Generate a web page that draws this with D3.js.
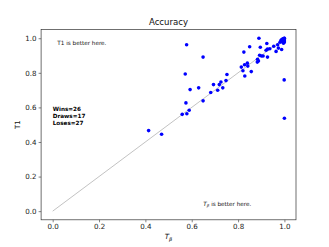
<!DOCTYPE html>
<html>
<head>
<meta charset="utf-8">
<script src="https://cdn.jsdelivr.net/npm/d3@7"></script>
<style>
  body { margin: 0; background: #fff; }
  text { font-family: "DejaVu Sans", sans-serif; }
</style>
</head>
<body>
<svg id="chart"></svg>
<script>
// T_beta accuracy (x) vs T1 accuracy (y)
const tBeta = [0.578, 0.649, 0.572, 0.593, 0.630, 0.575, 0.649, 0.589, 0.579, 0.559,
  0.682, 0.694, 0.712, 0.719, 0.726, 0.734, 0.748, 0.752, 0.814, 0.821,
  0.828, 0.840, 0.842, 0.829, 0.857, 0.825, 0.850, 0.890, 0.896, 0.884,
  0.883, 0.888, 0.893, 0.901, 0.908, 0.924, 0.927, 0.921, 0.927, 0.937,
  0.954, 0.964, 0.971, 0.974, 0.988, 0.981, 0.987, 0.993, 0.999, 0.990,
  0.996, 1.000, 0.999, 1.000, 0.414, 0.470, 1.000, 1.000, 0.985, 0.995];
const t1 = [0.962, 0.891, 0.793, 0.703, 0.713, 0.626, 0.638, 0.584, 0.563, 0.560,
  0.686, 0.732, 0.699, 0.732, 0.747, 0.713, 0.755, 0.790, 0.833, 0.812,
  0.847, 0.856, 0.839, 0.782, 0.807, 0.920, 0.951, 1.000, 0.948, 0.878,
  0.862, 0.868, 0.902, 0.897, 0.897, 0.970, 0.891, 0.931, 0.937, 0.939,
  0.954, 0.924, 0.962, 0.943, 0.935, 0.977, 0.991, 0.997, 1.000, 0.981,
  0.971, 0.979, 0.759, 0.537, 0.466, 0.445, 1.000, 0.990, 0.985, 0.988];
const ticks = [0.0, 0.2, 0.4, 0.6, 0.8, 1.0];
const counts = ["Wins=26", "Draws=17", "Loses=27"];

const width = 329, height = 247;
const margin = { top: 29.6, right: 33, bottom: 27.2, left: 41.1 };
const w = width - margin.left - margin.right;
const h = height - margin.top - margin.bottom;

const svg = d3.select("#chart").attr("width", width).attr("height", height);
const g = svg.append("g").attr("transform", `translate(${margin.left},${margin.top})`);

const x = d3.scaleLinear().domain([-0.05, 1.05]).range([0, w]);
const y = d3.scaleLinear().domain([-0.05, 1.05]).range([h, 0]);

// diagonal
g.append("line")
  .attr("x1", x(0)).attr("y1", y(0))
  .attr("x2", x(1)).attr("y2", y(1))
  .attr("stroke", "#999").attr("stroke-width", 0.6);

g.selectAll("circle")
  .data(d3.range(tBeta.length))
  .join("circle")
  .attr("cx", i => x(tBeta[i]))
  .attr("cy", i => y(t1[i]))
  .attr("r", 1.8)
  .attr("fill", "#0000ff");

const xAxis = g.append("g").attr("transform", `translate(0,${h})`)
  .call(d3.axisBottom(x).tickValues(ticks).tickFormat(d3.format(".1f")).tickSizeOuter(0).tickSize(2.5).tickPadding(2));
const yAxis = g.append("g")
  .call(d3.axisLeft(y).tickValues(ticks).tickFormat(d3.format(".1f")).tickSizeOuter(0).tickSize(2.5).tickPadding(2));
[xAxis, yAxis].forEach(a => {
  a.select(".domain").remove();
  a.selectAll("line").attr("stroke", "#333").attr("stroke-width", 0.6);
  a.selectAll("text").style("font-size", "7.1px").attr("fill", "#222");
});

// frame
g.append("rect").attr("width", w).attr("height", h)
  .attr("fill", "none").attr("stroke", "#333").attr("stroke-width", 0.7);

svg.append("text")
  .attr("x", margin.left + w / 2).attr("y", 25)
  .attr("text-anchor", "middle").style("font-size", "8.6px").attr("fill", "#111")
  .text("Accuracy");

g.append("text").attr("x", x(0.02)).attr("y", y(0.96))
  .style("font-size", "5.7px").attr("fill", "#111").text("T1 is better here.");

const tb = g.append("text").attr("x", x(0.65)).attr("y", y(0.03))
  .style("font-size", "5.7px").attr("fill", "#111");
tb.append("tspan").style("font-style", "italic").text("T");
tb.append("tspan").attr("dy", 1.2).style("font-size", "4px").style("font-style", "italic").text("β");
tb.append("tspan").attr("dy", -1.2).text(" is better here.");

g.selectAll(".count")
  .data(counts)
  .join("text")
  .attr("class", "count")
  .attr("x", x(0))
  .attr("y", (d, i) => y(0.577) + i * 6.7)
  .style("font-size", "5.7px").style("font-weight", "bold").attr("fill", "#000")
  .text(d => d);

// axis labels
const xl = svg.append("text").attr("x", margin.left + w / 2).attr("y", 239)
  .attr("text-anchor", "middle").style("font-size", "7.1px").attr("fill", "#111");
xl.append("tspan").style("font-style", "italic").text("T");
xl.append("tspan").attr("dy", 1.6).style("font-size", "5px").style("font-style", "italic").text("β");

svg.append("text")
  .attr("transform", `translate(20,${margin.top + h / 2}) rotate(-90)`)
  .attr("text-anchor", "middle").style("font-size", "7.1px").attr("fill", "#111")
  .text("T1");
</script>
</body>
</html>
